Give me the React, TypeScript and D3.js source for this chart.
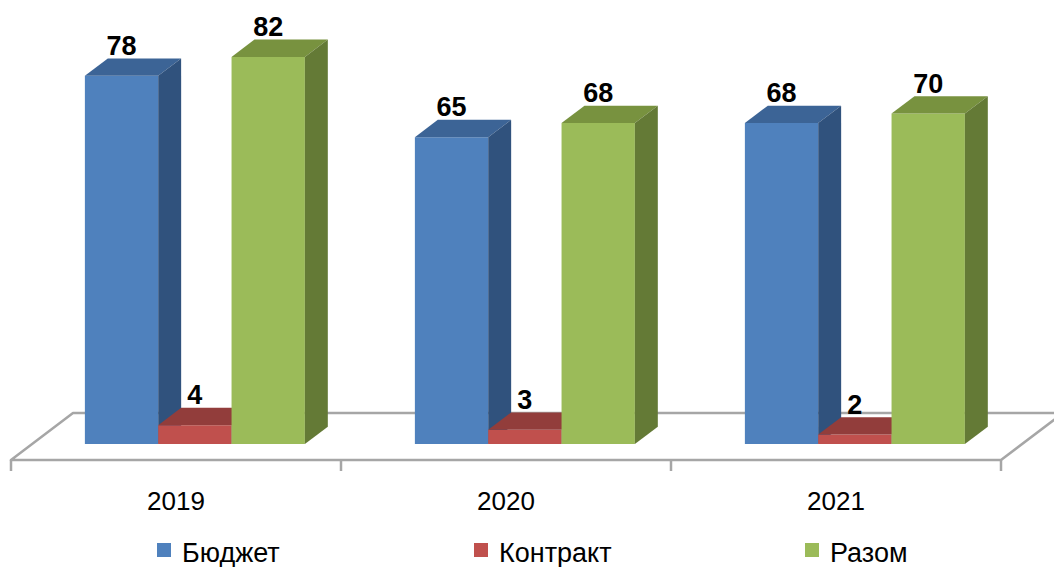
import React from 'react';
import * as d3 from 'd3';

const years = ['2019', '2020', '2021'];
const seriesNames = ['Бюджет', 'Контракт', 'Разом'];
const budget = [78, 65, 68];
const contract = [4, 3, 2];
const total = [82, 68, 70];

const width = 1054;
const height = 567;

// floor (oblique 3D) geometry
const floorFrontY = 460;
const depthDx = 62;
const depthDy = 47;
const barZ0 = 0.34;
const barZ1 = 0.71;

const faceColors = [
  { front: '#4F81BD', top: '#3C6496', side: '#30527D' },
  { front: '#C0504D', top: '#923D3B', side: '#7E3533' },
  { front: '#9BBB59', top: '#78923F', side: '#647A36' },
];

const legendX = [157, 474, 805];

const App = () => {
  const values = [budget, contract, total];

  const x0 = d3.scaleBand<string>().domain(years).range([11, 1001]).paddingInner(0).paddingOuter(0);
  const x1 = d3
    .scaleBand<string>()
    .domain(seriesNames)
    .range([0, x0.bandwidth()])
    .paddingInner(0)
    .paddingOuter(0.75)
    .align(0.48);
  const y = d3.scaleLinear().domain([0, 100]).range([0, 472]);

  // project (x on front plane, value, depth z) to screen
  const pt = (x: number, v: number, z: number): [number, number] => [
    x + z * depthDx,
    floorFrontY - z * depthDy - y(v),
  ];
  const poly = (ps: [number, number][]) => ps.map((p) => p.join(',')).join(' ');

  const [fx0, fx1] = x0.range();
  const floor = poly([pt(fx0, 0, 0), pt(fx1, 0, 0), pt(fx1, 0, 1), pt(fx0, 0, 1)]);

  const bars: JSX.Element[] = [];
  years.forEach((yr, gi) => {
    seriesNames.forEach((s, si) => {
      const v = values[si][gi];
      const xl = (x0(yr) as number) + (x1(s) as number);
      const xr = xl + x1.bandwidth();
      const c = faceColors[si];
      const fTL = pt(xl, v, barZ0);
      const fTR = pt(xr, v, barZ0);
      const fBR = pt(xr, 0, barZ0);
      const fBL = pt(xl, 0, barZ0);
      const bTL = pt(xl, v, barZ1);
      const bTR = pt(xr, v, barZ1);
      const bBR = pt(xr, 0, barZ1);
      bars.push(
        <g key={`${yr}-${s}`}>
          <polygon points={poly([fTL, fTR, fBR, fBL])} fill={c.front} />
          <polygon points={poly([fTL, fTR, bTR, bTL])} fill={c.top} />
          <polygon points={poly([fTR, bTR, bBR, fBR])} fill={c.side} />
          <text
            x={(fTL[0] + fTR[0]) / 2}
            y={fTL[1] - 21}
            textAnchor="middle"
            fontFamily="'Liberation Sans', Arial, sans-serif"
            fontWeight="bold"
            fontSize={27}
            fill="#000"
          >
            {v}
          </text>
        </g>
      );
    });
  });

  return (
    <div style={{ position: 'absolute', left: 0, top: 0 }}>
      <svg width={width} height={height} style={{ display: 'block', background: '#fff' }}>
        <polygon points={floor} fill="#fff" stroke="#A6A6A6" strokeWidth={2.5} strokeLinejoin="round" />
        {[...years.map((yr) => x0(yr) as number), fx1].map((tx, i) => (
          <line key={i} x1={tx} x2={tx} y1={floorFrontY} y2={floorFrontY + 11} stroke="#A6A6A6" strokeWidth={2.5} />
        ))}
        {bars}
        {years.map((yr) => (
          <text
            key={yr}
            x={(x0(yr) as number) + x0.bandwidth() / 2}
            y={510}
            textAnchor="middle"
            fontFamily="'Liberation Sans', Arial, sans-serif"
            fontSize={26}
            fill="#000"
          >
            {yr}
          </text>
        ))}
        {seriesNames.map((s, i) => (
          <g key={s} transform={`translate(${legendX[i]},543)`}>
            <rect width={14} height={14} fill={faceColors[i].front} />
            <text
              x={25}
              y={19}
              fontFamily="'Liberation Sans', Arial, sans-serif"
              fontSize={27}
              fill="#000"
            >
              {s}
            </text>
          </g>
        ))}
      </svg>
    </div>
  );
};

export default App;
